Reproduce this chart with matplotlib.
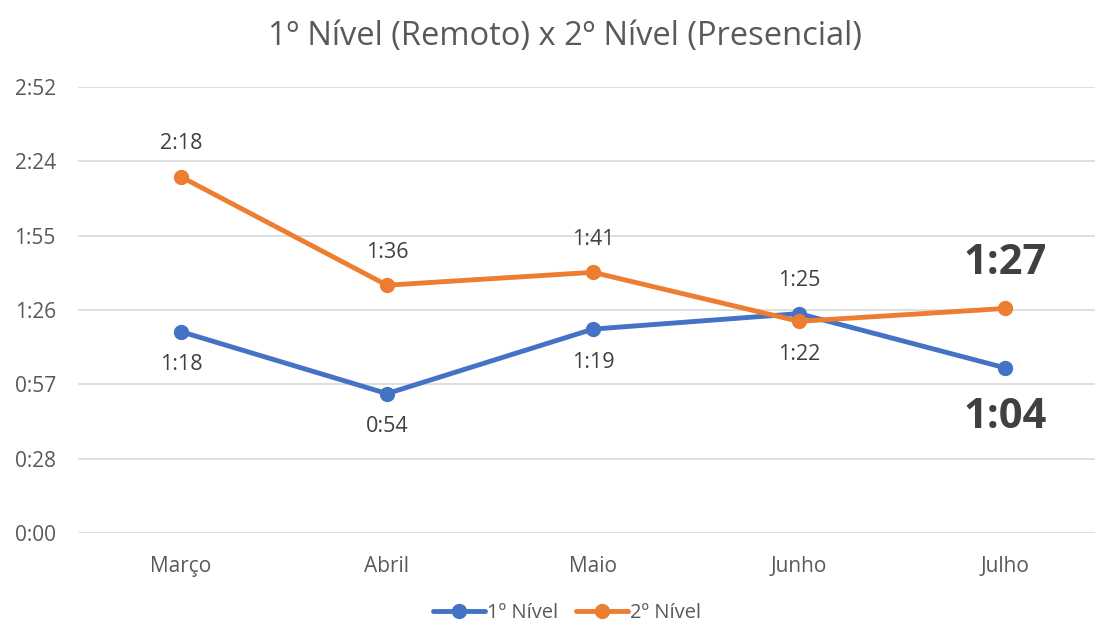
import matplotlib.pyplot as plt
from matplotlib.ticker import FixedLocator, FuncFormatter

# data (minutes)
months = ["Março", "Abril", "Maio", "Junho", "Julho"]
nivel1 = [78, 54, 79, 85, 64]
nivel2 = [138, 96, 101, 82, 87]
# label placement: +1 above, -1 below
pos1 = [-1, -1, -1, 1, -1]
pos2 = [1, 1, 1, -1, 1]
big = [False, False, False, False, True]

# y ticks follow Excel's 0.02-day steps
yticks = [k * 28.8 for k in range(7)]

BLUE = "#4472C4"
ORANGE = "#ED7D31"

plt.rcParams["font.family"] = ["Open Sans", "DejaVu Sans"]


def hm(m):
    m = int(m)
    return f"{m // 60}:{m % 60:02d}"


fig = plt.figure(figsize=(10.95, 6.25), dpi=100)
ax = fig.add_axes([78 / 1095, 92 / 625, 1030 / 1095, 446 / 625])

x = list(range(len(months)))
ax.plot(x, nivel1, color=BLUE, lw=3.5, marker="o", ms=10, label="1º Nível",
        solid_capstyle="round", zorder=3)
ax.plot(x, nivel2, color=ORANGE, lw=3.5, marker="o", ms=10, label="2º Nível",
        solid_capstyle="round", zorder=4)

for series, pos in ((nivel1, pos1), (nivel2, pos2)):
    for i, (v, p) in enumerate(zip(series, pos)):
        if big[i]:
            off = 45 if p > 0 else -50
            ax.annotate(hm(v), (i, v), xytext=(0, off), textcoords="offset pixels",
                        ha="center", va="center", fontsize=30, fontweight="bold",
                        color="#404040")
        else:
            ax.annotate(hm(v), (i, v), xytext=(0, 33 * p), textcoords="offset pixels",
                        ha="center", va="center", fontsize=15.5, color="#404040")

ax.set_xlim(-0.5, 4.5)
ax.set_ylim(0, 172.8)
ax.yaxis.set_major_locator(FixedLocator(yticks))
ax.yaxis.set_major_formatter(FuncFormatter(lambda v, _: hm(v + 1e-6)))
ax.set_xticks(x)
ax.set_xticklabels(months)
ax.grid(axis="y", color="#D9D9D9", lw=1.2)
ax.set_axisbelow(True)
for s in ax.spines.values():
    s.set_visible(False)
ax.tick_params(axis="both", length=0, labelsize=15, labelcolor="#595959")
ax.tick_params(axis="y", pad=16)
ax.tick_params(axis="x", pad=16.5)

fig.text(565 / 1095, 1 - 37 / 625, "1º Nível (Remoto) x 2º Nível (Presencial)",
         ha="center", va="center", fontsize=23.5, color="#595959")

fig.legend(loc="center", bbox_to_anchor=(567 / 1095, 1 - 613 / 625), ncol=2,
           frameon=False, fontsize=14.5, handlelength=2.6, columnspacing=0.9,
           handletextpad=0.1, labelcolor="#595959")

fig.savefig("out.png", dpi=100)
